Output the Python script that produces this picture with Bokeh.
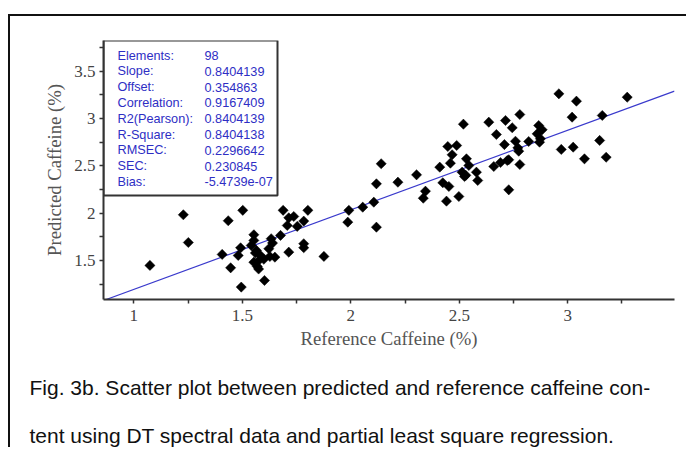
import math
from bokeh.plotting import figure
from bokeh.models import (FixedTicker, NumeralTickFormatter, ColumnDataSource, Range1d, Title)
from bokeh.core.properties import value
from bokeh.embed import file_html
from bokeh.resources import INLINE

# ---------------- data ----------------
ref_caffeine = [1.074, 1.228, 1.251, 1.407, 1.435, 1.446, 1.481, 1.492, 1.495, 1.502,
                1.541, 1.553, 1.553, 1.565, 1.584, 1.576, 1.553, 1.569, 1.575, 1.599,
                1.602, 1.622, 1.627, 1.650, 1.633, 1.676, 1.688, 1.714, 1.737, 1.707,
                1.753, 1.783, 1.802, 1.714, 1.783, 1.783, 1.876, 1.991, 1.986, 2.055,
                2.106, 2.118, 2.118, 2.140, 2.217, 2.303, 2.344, 2.334, 2.410, 2.447,
                2.488, 2.467, 2.459, 2.424, 2.452, 2.441, 2.498, 2.533, 2.544, 2.513,
                2.524, 2.579, 2.585, 2.519, 2.671, 2.708, 2.659, 2.690, 2.721, 2.728,
                2.636, 2.713, 2.779, 2.744, 2.759, 2.774, 2.728, 2.779, 2.820, 2.859,
                2.866, 2.882, 2.874, 2.959, 2.970, 3.020, 3.025, 3.040, 3.077, 3.147,
                3.159, 3.177, 3.274, 1.639, 2.530, 2.770, 1.560, 2.870]
pred_caffeine = [1.448, 1.983, 1.690, 1.564, 1.920, 1.423, 1.553, 1.634, 1.219, 2.030,
                 1.659, 1.772, 1.712, 1.606, 1.553, 1.500, 1.482, 1.437, 1.410, 1.513,
                 1.289, 1.624, 1.542, 1.535, 1.730, 1.765, 2.030, 1.951, 1.965, 1.870,
                 1.860, 1.916, 2.030, 1.588, 1.677, 1.635, 1.543, 2.030, 1.905, 2.063,
                 2.116, 1.852, 2.310, 2.522, 2.327, 2.405, 2.232, 2.158, 2.486, 2.704,
                 2.715, 2.617, 2.528, 2.321, 2.282, 2.127, 2.176, 2.574, 2.504, 2.433,
                 2.387, 2.433, 2.345, 2.940, 2.831, 2.725, 2.493, 2.535, 2.556, 2.247,
                 2.961, 2.979, 3.042, 2.902, 2.760, 2.655, 2.564, 2.514, 2.757, 2.838,
                 2.926, 2.881, 2.786, 3.261, 2.673, 3.014, 2.697, 3.183, 2.574, 2.768,
                 3.032, 2.591, 3.225, 1.684, 2.400, 2.690, 1.580, 2.750]

stat_names = ["Elements:", "Slope:", "Offset:", "Correlation:", "R2(Pearson):",
              "R-Square:", "RMSEC:", "SEC:", "Bias:"]
stat_values = ["98", "0.8404139", "0.354863", "0.9167409", "0.8404139",
               "0.8404138", "0.2296642", "0.230845", "-5.4739e-07"]
slope = 0.8404139
offset = 0.354863

x_major = [1, 1.5, 2, 2.5, 3]
x_minor = [1.25, 1.75, 2.25, 2.75, 3.25]
y_major = [1.5, 2, 2.5, 3, 3.5]
y_minor = [1.25, 1.75, 2.25, 2.75, 3.25, 3.75]

x_label = "Reference Caffeine (%)"
y_label = "Predicted Caffeine (%)"
caption_lines = ["Fig. 3b. Scatter plot between predicted and reference caffeine con-",
                 "tent using DT spectral data and partial least square regression."]

# ---------------- layout ----------------
X0, X1 = 0.86, 3.492
Y0, Y1 = 1.088, 3.824
OX, OY = 10, 16          # page position of the canvas (margin + panel border)
W, H = 678, 433
FL, FT = 103 - OX, 40 - OY
FR = W - (674 - OX)
FB = H - (299 - OY)
px_x = (W - FL - FR) / (X1 - X0)
px_y = (H - FT - FB) / (Y1 - Y0)

def dx(page_px):
    return X0 + (page_px - OX - FL) / px_x

def dy(page_py):
    return Y1 - (page_py - OY - FT) / px_y

p = figure(width=W, height=H, output_backend="svg", toolbar_location=None,
           x_range=Range1d(X0, X1), y_range=Range1d(Y0, Y1),
           min_border_left=FL, min_border_right=FR, min_border_top=FT,
           min_border_bottom=FB,
           styles={"margin-left": "8px", "margin-top": "14px",
                   "border-left": "2px solid #111111", "border-top": "2px solid #111111"})
p.outline_line_color = None
p.xgrid.visible = False
p.ygrid.visible = False

axis_col = "#333333"
for ax in (p.xaxis[0], p.yaxis[0]):
    ax.axis_line_color = axis_col
    ax.axis_line_width = 2
    ax.major_tick_line_color = axis_col
    ax.minor_tick_line_color = axis_col
    ax.major_tick_line_width = 1.5
    ax.minor_tick_line_width = 1.5
    ax.major_tick_in = 0
    ax.major_tick_out = 4
    ax.minor_tick_in = 0
    ax.minor_tick_out = 4
    ax.major_label_text_font = "Liberation Serif"
    ax.major_label_text_font_size = "17px"
    ax.major_label_text_color = "#444444"
    ax.axis_label_text_font = "Liberation Serif"
    ax.axis_label_text_font_size = "18.7px"
    ax.axis_label_text_font_style = "normal"
    ax.axis_label_text_color = "#555555"
    ax.formatter = NumeralTickFormatter(format="0.[0]")

p.xaxis[0].ticker = FixedTicker(ticks=x_major, minor_ticks=x_minor)
p.yaxis[0].ticker = FixedTicker(ticks=y_major, minor_ticks=y_minor)
p.xaxis[0].axis_label = x_label
p.yaxis[0].axis_label = y_label
p.xaxis[0].major_label_standoff = 6
p.yaxis[0].major_label_standoff = 4
p.xaxis[0].axis_label_standoff = 4
p.yaxis[0].axis_label_standoff = 6

# regression line across the plot
p.line([X0, X1], [offset + slope * X0, offset + slope * X1],
       line_color="#3a3acc", line_width=1.2)

# scatter points (diamonds)
src = ColumnDataSource(dict(x=ref_caffeine, y=pred_caffeine))
p.scatter("x", "y", source=src, marker="square", size=7.2, angle=math.pi / 4,
          fill_color="black", line_color="black", line_width=0.5)

# statistics box
p.quad(left=[X0], right=[dx(277)], bottom=[dy(195)], top=[Y1],
       fill_color="white", line_color="#333333", line_width=2)
row_y = [dy(55 + 15.8 * i) for i in range(len(stat_names))]
stat_src = ColumnDataSource(dict(xn=[dx(117)] * len(stat_names),
                                 xv=[dx(204)] * len(stat_names),
                                 y=row_y, n=stat_names, v=stat_values))
for col, xcol in (("n", "xn"), ("v", "xv")):
    p.text(xcol, "y", text=col, source=stat_src, text_font=value("Liberation Sans"),
           text_font_size="12.7px", text_color="#2e2ec4",
           text_baseline="middle", text_align="left")

# caption below the chart, one title per line
for line, gap in zip(caption_lines, (44, 3)):
    p.add_layout(Title(text=line, align="left", offset=-(103 - 29),
                       text_font="Liberation Sans", text_font_size="21px",
                       text_font_style="normal", text_color="#111111",
                       standoff=gap), "below")

open("out.html", "w").write(file_html(p, INLINE))
